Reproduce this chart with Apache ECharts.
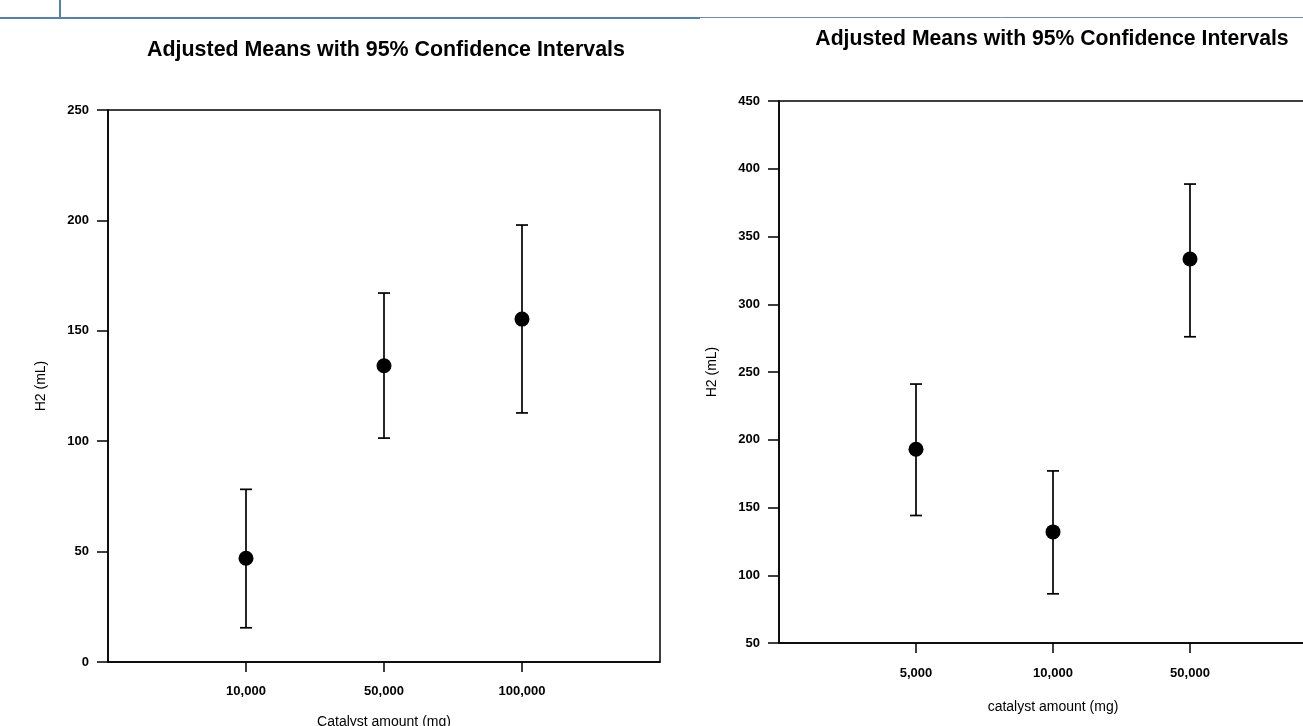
<!DOCTYPE html>
<html>
<head>
<meta charset="utf-8">
<script src="https://cdn.jsdelivr.net/npm/echarts@6/dist/echarts.min.js"></script>
<style>
  html, body { margin: 0; padding: 0; background: #fff; }
  #container { width: 1303px; height: 726px; }
</style>
</head>
<body>
<div id="container"></div>
<script>
// left panel: adjusted means with 95% CI
var leftCats = ['10,000', '50,000', '100,000'];
var leftMean = [47.0, 134.2, 155.3];
var leftLow = [15.5, 101.4, 112.8];
var leftHigh = [78.2, 167.1, 197.9];

// right panel
var rightCats = ['5,000', '10,000', '50,000'];
var rightMean = [193.0, 132.0, 333.4];
var rightLow = [144.1, 86.3, 276.0];
var rightHigh = [241.1, 177.0, 388.7];

var titleText = 'Adjusted Means with 95% Confidence Intervals';
var font = '"Liberation Sans", Arial, sans-serif';

function meanData(vals) {
	return vals.map(function (v, i) { return [i + 1, v]; });
}
function barData(lo, hi) {
	return lo.map(function (v, i) { return [i + 1, v, hi[i]]; });
}

function errorBar(params, api) {
	var x = api.value(0);
	var lo = api.coord([x, api.value(1)]);
	var hi = api.coord([x, api.value(2)]);
	var half = 6;
	var st = { stroke: '#000', lineWidth: 1.7 };
	return {
		type: 'group',
		children: [
			{ type: 'line', shape: { x1: hi[0], y1: hi[1], x2: lo[0], y2: lo[1] }, style: st },
			{ type: 'line', shape: { x1: hi[0] - half, y1: hi[1], x2: hi[0] + half, y2: hi[1] }, style: st },
			{ type: 'line', shape: { x1: lo[0] - half, y1: lo[1], x2: lo[0] + half, y2: lo[1] }, style: st }
		]
	};
}

function xAxisFor(idx, cats, name, nameGap, labelMargin) {
	return {
		type: 'value', gridIndex: idx, min: 0, max: 4, interval: 1,
		name: name, nameLocation: 'middle', nameGap: nameGap,
		nameTextStyle: { color: '#000', fontSize: 14, fontFamily: font },
		axisLine: { lineStyle: { color: '#000', width: 1.5 } },
		axisTick: { show: true, length: 10, customValues: [1, 2, 3], lineStyle: { color: '#000', width: 1.5 } },
		axisLabel: {
			customValues: [1, 2, 3], margin: labelMargin,
			color: '#000', fontWeight: 'bold', fontSize: 13, fontFamily: font,
			formatter: function (v) { return cats[v - 1] || ''; }
		},
		splitLine: { show: false }
	};
}

function yAxisFor(idx, min, max) {
	return {
		type: 'value', gridIndex: idx, min: min, max: max, interval: 50,
		name: 'H2 (mL)', nameLocation: 'middle', nameGap: 60, nameRotate: 90,
		nameTextStyle: { color: '#000', fontSize: 14, fontFamily: font },
		axisLine: { show: true, lineStyle: { color: '#000', width: 1.5 } },
		axisTick: { show: true, length: 11, lineStyle: { color: '#000', width: 1.5 } },
		axisLabel: { margin: 19, color: '#000', fontWeight: 'bold', fontSize: 13, fontFamily: font },
		splitLine: { show: false }
	};
}

var option = {
	backgroundColor: '#fff',
	animation: false,
	title: [
		{ text: titleText, left: 381, top: 35, textAlign: 'center',
		  textStyle: { color: '#000', fontSize: 21.4, fontWeight: 'bold', fontFamily: font } },
		{ text: titleText, left: 1047, top: 24, textAlign: 'center',
		  textStyle: { color: '#000', fontSize: 21.2, fontWeight: 'bold', fontFamily: font } }
	],
	graphic: [
		{ type: 'line', shape: { x1: 60, y1: 0, x2: 60, y2: 18 }, style: { stroke: '#4F81BD', lineWidth: 2 } },
		{ type: 'line', shape: { x1: 0, y1: 18, x2: 700, y2: 18 }, style: { stroke: '#4F81BD', lineWidth: 2 } },
		{ type: 'line', shape: { x1: 700, y1: 17.5, x2: 1303, y2: 17.5 }, style: { stroke: '#6A8DBA', lineWidth: 1 } }
	],
	grid: [
		{ left: 108, top: 110, width: 552, height: 552, outerBoundsMode: 'none', containLabel: false,
		  show: true, borderColor: '#000', borderWidth: 1.5, backgroundColor: 'transparent' },
		{ left: 779, top: 101, width: 548, height: 542, outerBoundsMode: 'none', containLabel: false,
		  show: true, borderColor: '#000', borderWidth: 1.5, backgroundColor: 'transparent' }
	],
	xAxis: [
		xAxisFor(0, leftCats, 'Catalyst amount (mg)', 53, 23),
		xAxisFor(1, rightCats, 'catalyst amount (mg)', 57, 24)
	],
	yAxis: [
		yAxisFor(0, 0, 250),
		yAxisFor(1, 50, 450)
	],
	series: [
		{ type: 'custom', xAxisIndex: 0, yAxisIndex: 0, renderItem: errorBar, data: barData(leftLow, leftHigh), z: 2 },
		{ type: 'scatter', xAxisIndex: 0, yAxisIndex: 0, symbol: 'circle', symbolSize: 15,
		  itemStyle: { color: '#000', opacity: 1 }, data: meanData(leftMean), z: 3 },
		{ type: 'custom', xAxisIndex: 1, yAxisIndex: 1, renderItem: errorBar, data: barData(rightLow, rightHigh), z: 2 },
		{ type: 'scatter', xAxisIndex: 1, yAxisIndex: 1, symbol: 'circle', symbolSize: 15,
		  itemStyle: { color: '#000', opacity: 1 }, data: meanData(rightMean), z: 3 }
	]
};

var myChart = echarts.init(document.getElementById('container'));
myChart.setOption(option);
</script>
</body>
</html>
